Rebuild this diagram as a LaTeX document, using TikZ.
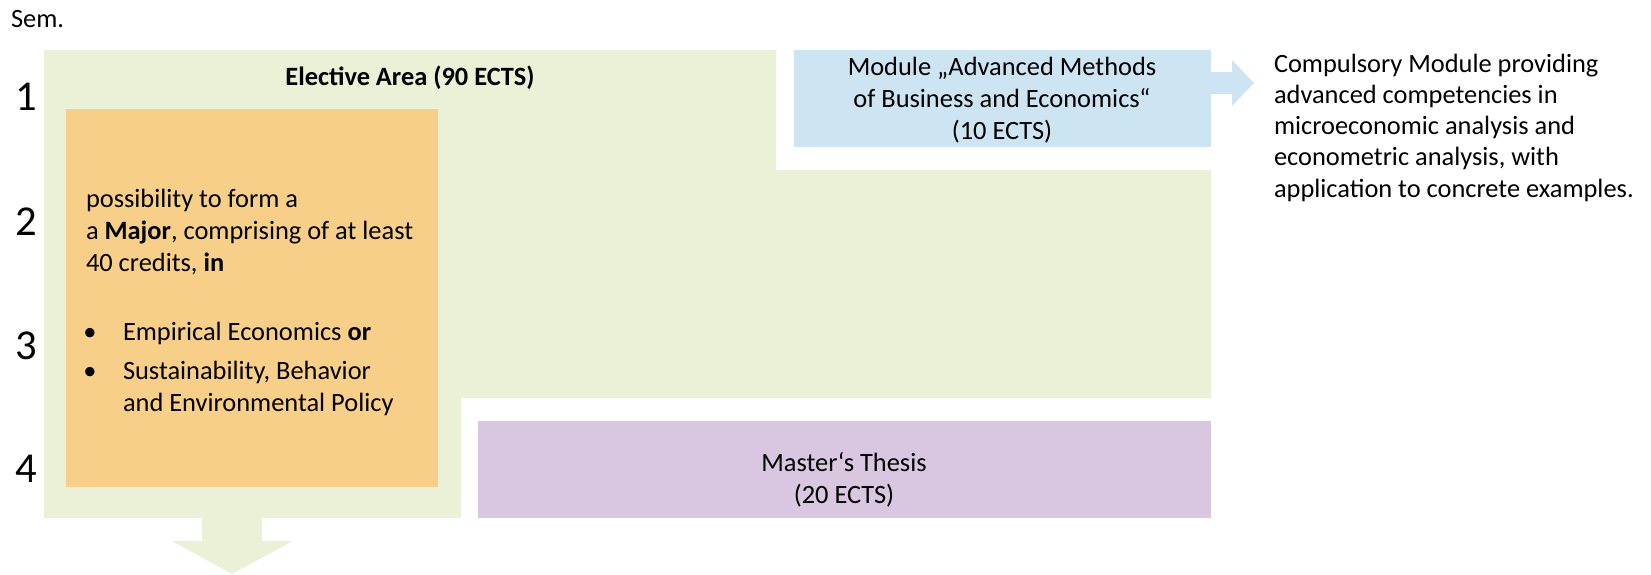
\documentclass[tikz,border=0pt]{standalone}
\usepackage{fontspec}
\setmainfont{Carlito}
\usepackage{tikz}
\usetikzlibrary{calc}
\definecolor{areagreen}{RGB}{235,241,215}
\definecolor{majororange}{RGB}{247,207,136}
\definecolor{modblue}{RGB}{205,228,242}
\definecolor{thesispurple}{RGB}{217,198,224}
\tikzstyle{blk}=[draw=none, inner sep=0pt, outer sep=0pt, anchor=north west]
\tikzstyle{txt}=[inner sep=0pt, outer sep=0pt, font=\fontsize{13.2}{16}\selectfont]
\tikzstyle{semnum}=[inner sep=0pt, anchor=base, font=\fontsize{21.3}{24}\selectfont]

\begin{document}
\begin{tikzpicture}[x=0.5pt,y=-0.5pt]
        \useasboundingbox (0,0) rectangle (1651,574);
        % elective area with its arrow
        \fill[areagreen] (44,50) -- (776,50) -- (776,170) -- (1211,170) -- (1211,398)
            -- (461,398) -- (461,518) -- (44,518) -- cycle;
        \fill[areagreen] (202,518) -- (202,541) -- (172,541) -- (232,574) -- (293,541)
            -- (262,541) -- (262,518) -- cycle;
        \node [blk, fill=majororange, minimum width=186pt, minimum height=189pt] (major) at (66,109) {};
        \node [blk, fill=modblue, minimum width=208.5pt, minimum height=48.5pt] (module) at (794,50) {};
        \node [blk, fill=thesispurple, minimum width=366.5pt, minimum height=48.5pt] (thesis) at (478,421) {};
        \fill[modblue] (module.east |- 0,72) -- (1232,72) -- (1232,60) -- (1254,83)
            -- (1232,106) -- (1232,94) -- (module.east |- 0,94) -- cycle;
        % semesters
        \node [txt, anchor=base west] (sem) at (11,27) {Sem.};
        \foreach \s/\y in {1/110,2/235,3/359,4/482}
            \node [semnum] (sem\s) at (26,\y) {\s};
        % texts (base = last line)
        \node [txt, anchor=base, font=\fontsize{13.2}{16}\selectfont\bfseries] (area) at (410,85) {Elective Area (90 ECTS)};
        \node [txt, anchor=base west, align=left] (majortext) at (86,271)
            {possibility to form a\\a \textbf{Major}, comprising of at least\\40 credits, \textbf{in}};
        \node [txt, anchor=base] (b1) at (90,340) {\textbullet};
        \node [txt, anchor=base west] (empec) at (123,340) {Empirical Economics \textbf{or}};
        \node [txt, anchor=base] (b2) at (90,379) {\textbullet};
        \node [txt, anchor=base west, align=left] (sbep) at (123,411) {Sustainability, Behavior\\and Environmental Policy};
        \node [txt, anchor=base, align=center] (modtext) at (1002,139)
            {Module „Advanced Methods\\of Business and Economics“\\(10 ECTS)};
        \node [txt, anchor=base, align=center] (thesistext) at (844,503) {Master‘s Thesis\\(20 ECTS)};
        \node [txt, anchor=base west, align=left, font=\fontsize{13.2}{15.6}\selectfont] (compulsory) at (1274,197)
            {Compulsory Module providing\\advanced competencies in\\microeconomic analysis and\\econometric analysis, with\\application to concrete examples.};
\end{tikzpicture}
\end{document}
